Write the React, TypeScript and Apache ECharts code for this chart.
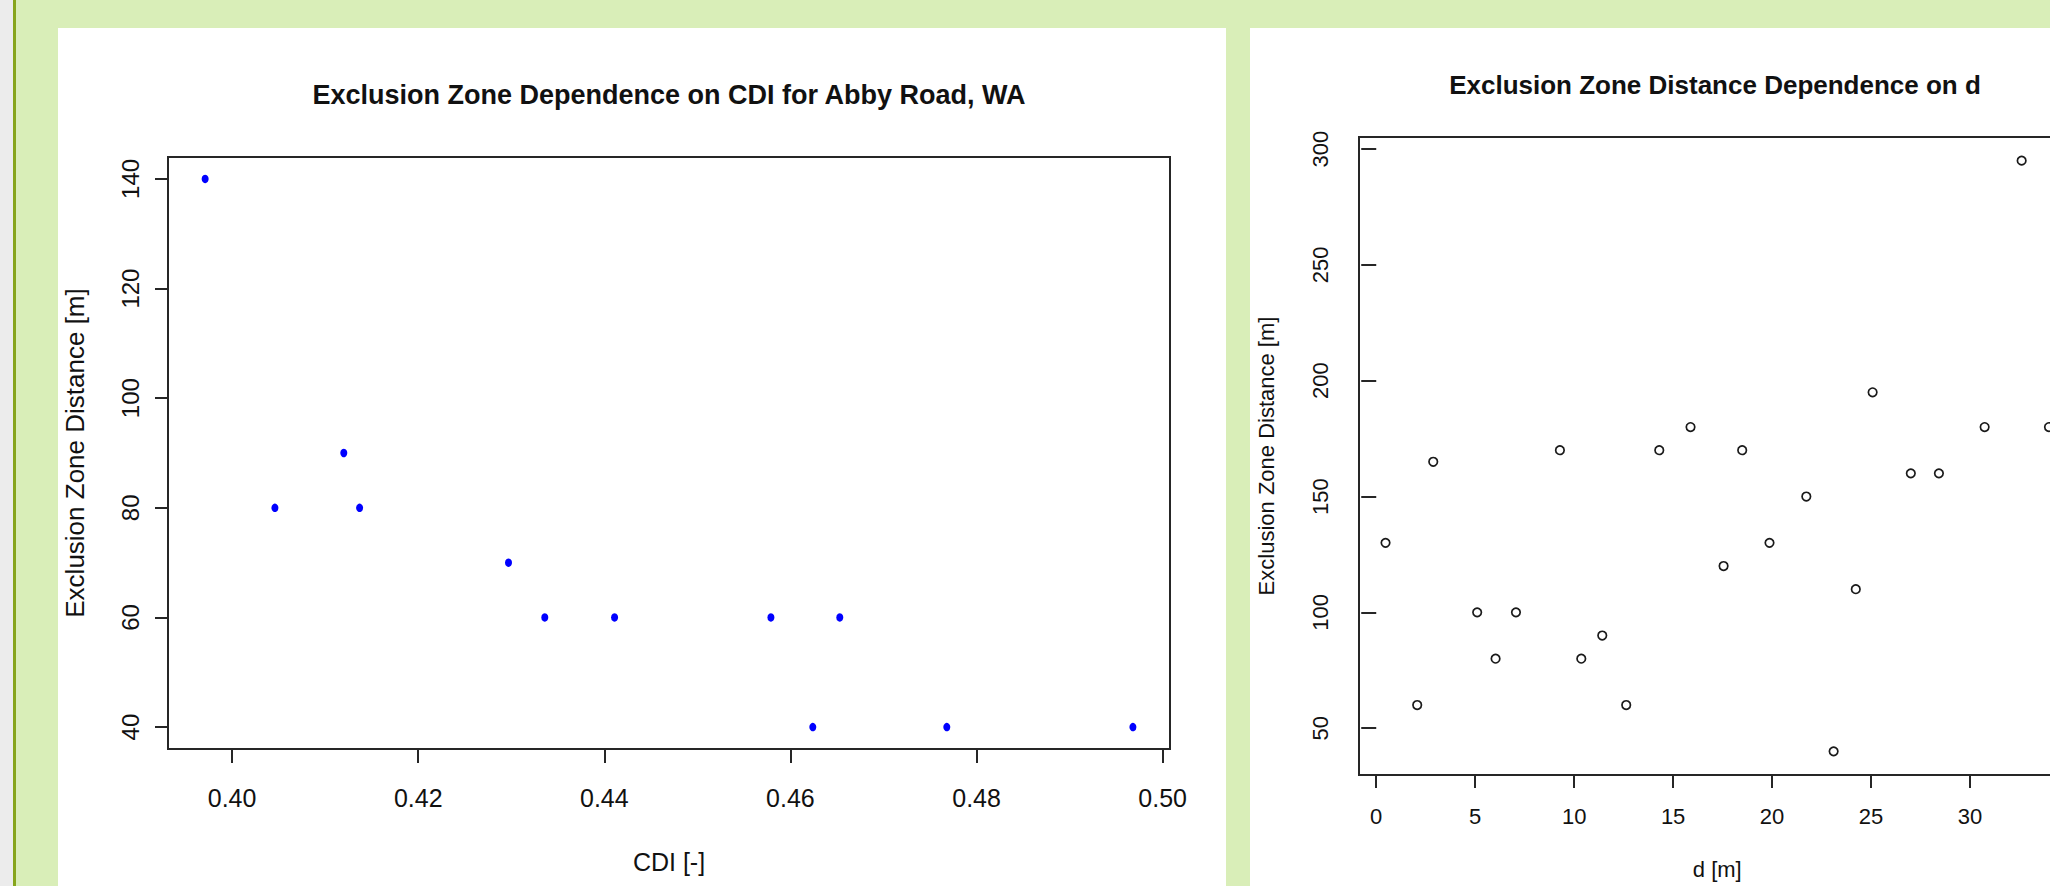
import React, { useEffect, useRef } from "react";
import * as echarts from "echarts";

// ---- data: left chart (CDI) ----
const cdiValues = [0.3971, 0.4046, 0.412, 0.4137, 0.4297, 0.4336, 0.4411, 0.4579, 0.4653, 0.4624, 0.4768, 0.4968];
const cdiExclusion = [140, 80, 90, 80, 70, 60, 60, 60, 60, 40, 40, 40];
const cdiXTicks = [0.4, 0.42, 0.44, 0.46, 0.48, 0.5];
const cdiYTicks = [40, 60, 80, 100, 120, 140];

// ---- data: right chart (d) ----
const dValues = [0.47, 2.07, 2.88, 5.1, 6.03, 7.06, 9.28, 10.36, 11.42, 12.63, 14.3, 15.88, 17.55, 18.49, 19.87, 21.73, 23.11, 24.23, 25.08, 27.01, 28.43, 30.74, 32.61, 33.99];
const dExclusion = [130, 60, 165, 100, 80, 100, 170, 80, 90, 60, 170, 180, 120, 170, 130, 150, 40, 110, 195, 160, 160, 180, 295, 180];
const dXTicks = [0, 5, 10, 15, 20, 25, 30];
const dYTicks = [50, 100, 150, 200, 250, 300];

const leftTitle = "Exclusion Zone Dependence on CDI for Abby Road, WA";
const rightTitle = "Exclusion Zone Distance Dependence on d";
const leftXName = "CDI [-]";
const rightXName = "d [m]";
const yName = "Exclusion Zone Distance [m]";

// R-style axis extent (data range padded by 4%)
function rRange(vals: number[]): [number, number] {
  const mn = Math.min(...vals);
  const mx = Math.max(...vals);
  const p = (mx - mn) * 0.04;
  return [mn - p, mx + p];
}

const AX = "#262626";
const TXT = "#111111";
const sans = "'Liberation Sans', Arial, Helvetica, sans-serif";
const narrow = "'Liberation Sans Narrow', 'Arial Narrow', 'Liberation Sans', Arial, sans-serif";

export default function App() {
  const ref = useRef<HTMLDivElement>(null);

  useEffect(() => {
    if (!ref.current) return;
    const chart = echarts.init(ref.current, undefined, { renderer: "svg" });
    const lx = rRange(cdiValues);
    const ly = rRange(cdiExclusion);
    const rx = rRange(dValues);
    const ry = rRange(dExclusion);

    const gridBox = {
      show: true,
      borderColor: AX,
      borderWidth: 2,
      backgroundColor: "transparent",
      containLabel: false,
      outerBoundsMode: "none",
    };
    const tick = (vals: number[], len: number) => ({
      show: true,
      inside: false,
      length: len,
      lineStyle: { color: AX, width: 2 },
      customValues: vals,
    });

    const option: any = {
      animation: false,
      backgroundColor: "transparent",
      graphic: [
        {
          type: "text",
          x: 669,
          y: 95,
          style: { text: leftTitle, font: `bold 27px ${sans}`, fill: TXT, align: "center", verticalAlign: "middle" },
        },
        {
          type: "text",
          x: 1715,
          y: 85,
          style: { text: rightTitle, font: `bold 26px ${sans}`, fill: TXT, align: "center", verticalAlign: "middle" },
        },
      ],
      grid: [
        { ...gridBox, left: 168, top: 157, width: 1002, height: 592 },
        { ...gridBox, left: 1359, top: 137, width: 716.5, height: 638 },
      ],
      xAxis: [
        {
          gridIndex: 0,
          type: "value",
          min: lx[0],
          max: lx[1],
          name: leftXName,
          nameLocation: "middle",
          nameGap: 100,
          nameTextStyle: { fontFamily: narrow, fontSize: 25, color: TXT },
          axisLine: { show: false },
          splitLine: { show: false },
          axisTick: tick(cdiXTicks, 14),
          axisLabel: {
            customValues: cdiXTicks,
            formatter: (v: number) => v.toFixed(2),
            margin: 36,
            fontFamily: narrow,
            fontSize: 25,
            color: TXT,
          },
        },
        {
          gridIndex: 1,
          type: "value",
          min: rx[0],
          max: rx[1],
          name: rightXName,
          nameLocation: "middle",
          nameGap: 83,
          nameTextStyle: { fontFamily: sans, fontSize: 22, color: TXT },
          axisLine: { show: false },
          splitLine: { show: false },
          axisTick: tick(dXTicks, 13),
          axisLabel: { customValues: dXTicks, margin: 30, fontFamily: sans, fontSize: 22, color: TXT },
        },
      ],
      yAxis: [
        {
          gridIndex: 0,
          type: "value",
          min: ly[0],
          max: ly[1],
          name: yName,
          nameLocation: "middle",
          nameGap: 80,
          nameTextStyle: { fontFamily: sans, fontSize: 26, color: TXT },
          axisLine: { show: false },
          splitLine: { show: false },
          axisTick: tick(cdiYTicks, 13),
          axisLabel: { customValues: cdiYTicks, rotate: 90, margin: 26, fontFamily: sans, fontSize: 24, color: TXT },
        },
        {
          gridIndex: 1,
          type: "value",
          min: ry[0],
          max: ry[1],
          name: yName,
          nameLocation: "middle",
          nameGap: 82,
          nameTextStyle: { fontFamily: sans, fontSize: 22, color: TXT },
          axisLine: { show: false },
          splitLine: { show: false },
          axisTick: tick(dYTicks, 15),
          axisLabel: { customValues: dYTicks, rotate: 90, margin: 28, fontFamily: sans, fontSize: 22, color: TXT },
        },
      ],
      series: [
        {
          type: "scatter",
          xAxisIndex: 0,
          yAxisIndex: 0,
          data: cdiValues.map((x, i) => [x, cdiExclusion[i]]),
          symbol: "circle",
          symbolSize: [7, 8.5],
          itemStyle: { color: "#0000ff", opacity: 1 },
        },
        {
          type: "scatter",
          xAxisIndex: 1,
          yAxisIndex: 1,
          data: dValues.map((x, i) => [x, dExclusion[i]]),
          symbol: "circle",
          symbolSize: 8.5,
          itemStyle: { color: "rgba(255,255,255,0)", borderColor: "#1a1a1a", borderWidth: 1.7, opacity: 1 },
        },
      ],
    };
    chart.setOption(option);
    return () => chart.dispose();
  }, []);

  return (
    <div
      style={{
        position: "fixed",
        left: 0,
        top: 0,
        width: 2050,
        height: 886,
        overflow: "hidden",
        background: "#d9eeb8",
      }}
    >
      <div style={{ position: "absolute", left: 0, top: 0, width: 13, height: 886, background: "#ececec" }} />
      <div style={{ position: "absolute", left: 13, top: 0, width: 3, height: 886, background: "#86a51c" }} />
      <div style={{ position: "absolute", left: 58, top: 28, width: 1168, height: 858, background: "#ffffff" }} />
      <div style={{ position: "absolute", left: 1250, top: 28, width: 800, height: 858, background: "#ffffff" }} />
      <div ref={ref} style={{ position: "absolute", left: 0, top: 0, width: 2050, height: 886 }} />
    </div>
  );
}
